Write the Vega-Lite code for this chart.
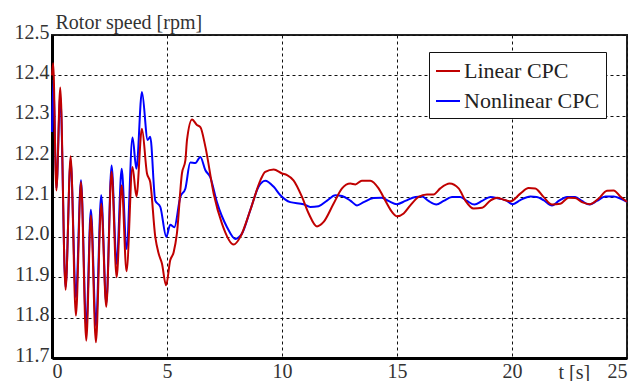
{
  "$schema": "https://vega.github.io/schema/vega-lite/v6.json",
  "width": 575,
  "height": 323,
  "autosize": {"type": "none"},
  "padding": {"left": 52, "top": 35, "right": 3, "bottom": 23},
  "background": "white",
  "config": {
    "font": "Liberation Serif",
    "view": {"stroke": "#222", "strokeWidth": 2},
    "axis": {
      "grid": true,
      "gridColor": "#111",
      "gridDash": [3, 3],
      "gridWidth": 1,
      "gridOpacity": 1,
      "domainColor": "#000",
      "domainWidth": 3,
      "ticks": false,
      "labelFont": "Liberation Serif",
      "labelFontSize": 20,
      "labelColor": "#333",
      "titleFont": "Liberation Serif",
      "titleFontWeight": "normal",
      "titleColor": "#333"
    },
    "legend": {
      "labelFont": "Liberation Serif",
      "labelFontSize": 22,
      "labelColor": "#222"
    }
  },
  "data": {
    "values": [
      {"t": 0.0, "v": 12.40, "s": "Linear CPC"},
      {"t": 0.05, "v": 12.43, "s": "Linear CPC"},
      {"t": 0.19, "v": 12.115, "s": "Linear CPC"},
      {"t": 0.36, "v": 12.37, "s": "Linear CPC"},
      {"t": 0.59, "v": 11.869, "s": "Linear CPC"},
      {"t": 0.81, "v": 12.20, "s": "Linear CPC"},
      {"t": 1.04, "v": 11.805, "s": "Linear CPC"},
      {"t": 1.26, "v": 12.136, "s": "Linear CPC"},
      {"t": 1.49, "v": 11.743, "s": "Linear CPC"},
      {"t": 1.69, "v": 12.053, "s": "Linear CPC"},
      {"t": 1.91, "v": 11.739, "s": "Linear CPC"},
      {"t": 2.14, "v": 12.082, "s": "Linear CPC"},
      {"t": 2.36, "v": 11.827, "s": "Linear CPC"},
      {"t": 2.59, "v": 12.161, "s": "Linear CPC"},
      {"t": 2.81, "v": 11.90, "s": "Linear CPC"},
      {"t": 3.03, "v": 12.128, "s": "Linear CPC"},
      {"t": 3.24, "v": 11.915, "s": "Linear CPC"},
      {"t": 3.5, "v": 12.173, "s": "Linear CPC"},
      {"t": 3.67, "v": 12.10, "s": "Linear CPC"},
      {"t": 3.91, "v": 12.268, "s": "Linear CPC"},
      {"t": 4.13, "v": 12.157, "s": "Linear CPC"},
      {"t": 4.27, "v": 12.136, "s": "Linear CPC"},
      {"t": 4.49, "v": 12.00, "s": "Linear CPC"},
      {"t": 4.64, "v": 11.958, "s": "Linear CPC"},
      {"t": 4.78, "v": 11.934, "s": "Linear CPC"},
      {"t": 4.96, "v": 11.88, "s": "Linear CPC"},
      {"t": 5.14, "v": 11.942, "s": "Linear CPC"},
      {"t": 5.29, "v": 11.962, "s": "Linear CPC"},
      {"t": 5.43, "v": 12.008, "s": "Linear CPC"},
      {"t": 5.65, "v": 12.157, "s": "Linear CPC"},
      {"t": 5.8, "v": 12.19, "s": "Linear CPC"},
      {"t": 5.87, "v": 12.24, "s": "Linear CPC"},
      {"t": 6.09, "v": 12.291, "s": "Linear CPC"},
      {"t": 6.3, "v": 12.277, "s": "Linear CPC"},
      {"t": 6.45, "v": 12.272, "s": "Linear CPC"},
      {"t": 6.67, "v": 12.223, "s": "Linear CPC"},
      {"t": 7.03, "v": 12.107, "s": "Linear CPC"},
      {"t": 7.39, "v": 12.033, "s": "Linear CPC"},
      {"t": 7.9, "v": 11.981, "s": "Linear CPC"},
      {"t": 8.19, "v": 12.0, "s": "Linear CPC"},
      {"t": 8.62, "v": 12.066, "s": "Linear CPC"},
      {"t": 9.06, "v": 12.14, "s": "Linear CPC"},
      {"t": 9.27, "v": 12.161, "s": "Linear CPC"},
      {"t": 9.64, "v": 12.167, "s": "Linear CPC"},
      {"t": 10.0, "v": 12.157, "s": "Linear CPC"},
      {"t": 10.22, "v": 12.153, "s": "Linear CPC"},
      {"t": 10.5, "v": 12.14, "s": "Linear CPC"},
      {"t": 10.87, "v": 12.099, "s": "Linear CPC"},
      {"t": 11.16, "v": 12.058, "s": "Linear CPC"},
      {"t": 11.52, "v": 12.026, "s": "Linear CPC"},
      {"t": 11.81, "v": 12.037, "s": "Linear CPC"},
      {"t": 12.24, "v": 12.082, "s": "Linear CPC"},
      {"t": 12.61, "v": 12.12, "s": "Linear CPC"},
      {"t": 12.97, "v": 12.132, "s": "Linear CPC"},
      {"t": 13.19, "v": 12.13, "s": "Linear CPC"},
      {"t": 13.47, "v": 12.139, "s": "Linear CPC"},
      {"t": 13.84, "v": 12.139, "s": "Linear CPC"},
      {"t": 14.2, "v": 12.12, "s": "Linear CPC"},
      {"t": 14.49, "v": 12.09, "s": "Linear CPC"},
      {"t": 14.78, "v": 12.062, "s": "Linear CPC"},
      {"t": 15.0, "v": 12.051, "s": "Linear CPC"},
      {"t": 15.29, "v": 12.058, "s": "Linear CPC"},
      {"t": 15.58, "v": 12.078, "s": "Linear CPC"},
      {"t": 15.94, "v": 12.099, "s": "Linear CPC"},
      {"t": 16.3, "v": 12.105, "s": "Linear CPC"},
      {"t": 16.59, "v": 12.105, "s": "Linear CPC"},
      {"t": 16.88, "v": 12.12, "s": "Linear CPC"},
      {"t": 17.29, "v": 12.132, "s": "Linear CPC"},
      {"t": 17.68, "v": 12.12, "s": "Linear CPC"},
      {"t": 17.97, "v": 12.09, "s": "Linear CPC"},
      {"t": 18.33, "v": 12.07, "s": "Linear CPC"},
      {"t": 18.7, "v": 12.072, "s": "Linear CPC"},
      {"t": 19.06, "v": 12.09, "s": "Linear CPC"},
      {"t": 19.35, "v": 12.097, "s": "Linear CPC"},
      {"t": 19.64, "v": 12.092, "s": "Linear CPC"},
      {"t": 19.93, "v": 12.088, "s": "Linear CPC"},
      {"t": 20.36, "v": 12.107, "s": "Linear CPC"},
      {"t": 20.72, "v": 12.121, "s": "Linear CPC"},
      {"t": 21.01, "v": 12.12, "s": "Linear CPC"},
      {"t": 21.37, "v": 12.099, "s": "Linear CPC"},
      {"t": 21.74, "v": 12.08, "s": "Linear CPC"},
      {"t": 22.1, "v": 12.082, "s": "Linear CPC"},
      {"t": 22.46, "v": 12.097, "s": "Linear CPC"},
      {"t": 22.75, "v": 12.096, "s": "Linear CPC"},
      {"t": 23.04, "v": 12.086, "s": "Linear CPC"},
      {"t": 23.4, "v": 12.081, "s": "Linear CPC"},
      {"t": 23.77, "v": 12.095, "s": "Linear CPC"},
      {"t": 24.13, "v": 12.114, "s": "Linear CPC"},
      {"t": 24.42, "v": 12.115, "s": "Linear CPC"},
      {"t": 24.71, "v": 12.1, "s": "Linear CPC"},
      {"t": 25.0, "v": 12.087, "s": "Linear CPC"},
      {"t": 0.0, "v": 12.26, "s": "Nonlinear CPC"},
      {"t": 0.06, "v": 12.39, "s": "Nonlinear CPC"},
      {"t": 0.19, "v": 12.12, "s": "Nonlinear CPC"},
      {"t": 0.36, "v": 12.35, "s": "Nonlinear CPC"},
      {"t": 0.59, "v": 11.875, "s": "Nonlinear CPC"},
      {"t": 0.81, "v": 12.19, "s": "Nonlinear CPC"},
      {"t": 1.04, "v": 11.85, "s": "Nonlinear CPC"},
      {"t": 1.26, "v": 12.14, "s": "Nonlinear CPC"},
      {"t": 1.49, "v": 11.776, "s": "Nonlinear CPC"},
      {"t": 1.69, "v": 12.067, "s": "Nonlinear CPC"},
      {"t": 1.91, "v": 11.78, "s": "Nonlinear CPC"},
      {"t": 2.14, "v": 12.103, "s": "Nonlinear CPC"},
      {"t": 2.36, "v": 11.835, "s": "Nonlinear CPC"},
      {"t": 2.59, "v": 12.177, "s": "Nonlinear CPC"},
      {"t": 2.81, "v": 11.933, "s": "Nonlinear CPC"},
      {"t": 3.03, "v": 12.169, "s": "Nonlinear CPC"},
      {"t": 3.24, "v": 11.97, "s": "Nonlinear CPC"},
      {"t": 3.5, "v": 12.246, "s": "Nonlinear CPC"},
      {"t": 3.67, "v": 12.169, "s": "Nonlinear CPC"},
      {"t": 3.91, "v": 12.359, "s": "Nonlinear CPC"},
      {"t": 4.16, "v": 12.24, "s": "Nonlinear CPC"},
      {"t": 4.27, "v": 12.248, "s": "Nonlinear CPC"},
      {"t": 4.49, "v": 12.09, "s": "Nonlinear CPC"},
      {"t": 4.71, "v": 12.074, "s": "Nonlinear CPC"},
      {"t": 4.97, "v": 12.0, "s": "Nonlinear CPC"},
      {"t": 5.14, "v": 12.03, "s": "Nonlinear CPC"},
      {"t": 5.32, "v": 12.024, "s": "Nonlinear CPC"},
      {"t": 5.58, "v": 12.099, "s": "Nonlinear CPC"},
      {"t": 5.8, "v": 12.12, "s": "Nonlinear CPC"},
      {"t": 6.01, "v": 12.184, "s": "Nonlinear CPC"},
      {"t": 6.23, "v": 12.183, "s": "Nonlinear CPC"},
      {"t": 6.45, "v": 12.198, "s": "Nonlinear CPC"},
      {"t": 6.67, "v": 12.165, "s": "Nonlinear CPC"},
      {"t": 6.88, "v": 12.148, "s": "Nonlinear CPC"},
      {"t": 7.17, "v": 12.086, "s": "Nonlinear CPC"},
      {"t": 7.61, "v": 12.024, "s": "Nonlinear CPC"},
      {"t": 7.97, "v": 11.995, "s": "Nonlinear CPC"},
      {"t": 8.26, "v": 12.008, "s": "Nonlinear CPC"},
      {"t": 8.62, "v": 12.066, "s": "Nonlinear CPC"},
      {"t": 8.98, "v": 12.124, "s": "Nonlinear CPC"},
      {"t": 9.27, "v": 12.139, "s": "Nonlinear CPC"},
      {"t": 9.64, "v": 12.124, "s": "Nonlinear CPC"},
      {"t": 9.93, "v": 12.103, "s": "Nonlinear CPC"},
      {"t": 10.36, "v": 12.086, "s": "Nonlinear CPC"},
      {"t": 10.94, "v": 12.081, "s": "Nonlinear CPC"},
      {"t": 11.23, "v": 12.074, "s": "Nonlinear CPC"},
      {"t": 11.59, "v": 12.076, "s": "Nonlinear CPC"},
      {"t": 11.96, "v": 12.09, "s": "Nonlinear CPC"},
      {"t": 12.32, "v": 12.103, "s": "Nonlinear CPC"},
      {"t": 12.61, "v": 12.101, "s": "Nonlinear CPC"},
      {"t": 12.97, "v": 12.09, "s": "Nonlinear CPC"},
      {"t": 13.26, "v": 12.078, "s": "Nonlinear CPC"},
      {"t": 13.55, "v": 12.086, "s": "Nonlinear CPC"},
      {"t": 13.98, "v": 12.096, "s": "Nonlinear CPC"},
      {"t": 14.34, "v": 12.097, "s": "Nonlinear CPC"},
      {"t": 14.63, "v": 12.089, "s": "Nonlinear CPC"},
      {"t": 15.0, "v": 12.081, "s": "Nonlinear CPC"},
      {"t": 15.36, "v": 12.089, "s": "Nonlinear CPC"},
      {"t": 15.8, "v": 12.099, "s": "Nonlinear CPC"},
      {"t": 16.09, "v": 12.1, "s": "Nonlinear CPC"},
      {"t": 16.37, "v": 12.089, "s": "Nonlinear CPC"},
      {"t": 16.71, "v": 12.08, "s": "Nonlinear CPC"},
      {"t": 17.03, "v": 12.089, "s": "Nonlinear CPC"},
      {"t": 17.39, "v": 12.099, "s": "Nonlinear CPC"},
      {"t": 17.75, "v": 12.099, "s": "Nonlinear CPC"},
      {"t": 18.04, "v": 12.089, "s": "Nonlinear CPC"},
      {"t": 18.37, "v": 12.08, "s": "Nonlinear CPC"},
      {"t": 18.7, "v": 12.089, "s": "Nonlinear CPC"},
      {"t": 19.06, "v": 12.099, "s": "Nonlinear CPC"},
      {"t": 19.42, "v": 12.095, "s": "Nonlinear CPC"},
      {"t": 19.71, "v": 12.091, "s": "Nonlinear CPC"},
      {"t": 20.04, "v": 12.081, "s": "Nonlinear CPC"},
      {"t": 20.36, "v": 12.091, "s": "Nonlinear CPC"},
      {"t": 20.8, "v": 12.1, "s": "Nonlinear CPC"},
      {"t": 21.08, "v": 12.099, "s": "Nonlinear CPC"},
      {"t": 21.37, "v": 12.091, "s": "Nonlinear CPC"},
      {"t": 21.74, "v": 12.078, "s": "Nonlinear CPC"},
      {"t": 22.03, "v": 12.089, "s": "Nonlinear CPC"},
      {"t": 22.39, "v": 12.099, "s": "Nonlinear CPC"},
      {"t": 22.75, "v": 12.099, "s": "Nonlinear CPC"},
      {"t": 23.04, "v": 12.089, "s": "Nonlinear CPC"},
      {"t": 23.37, "v": 12.08, "s": "Nonlinear CPC"},
      {"t": 23.69, "v": 12.089, "s": "Nonlinear CPC"},
      {"t": 24.06, "v": 12.1, "s": "Nonlinear CPC"},
      {"t": 24.42, "v": 12.1, "s": "Nonlinear CPC"},
      {"t": 24.71, "v": 12.095, "s": "Nonlinear CPC"},
      {"t": 25.0, "v": 12.087, "s": "Nonlinear CPC"}
    ]
  },
  "encoding": {
    "x": {
      "field": "t",
      "type": "quantitative",
      "scale": {"domain": [0, 25], "nice": false, "zero": false},
      "axis": {
        "values": [0, 5, 10, 15, 20, 25],
        "labelFont": "Liberation Serif",
        "labelFontSize": 20,
        "labelFlush": true,
        "labelPadding": 3,
        "title": "t [s]",
        "titleFont": "Liberation Serif",
        "titleFontSize": 20,
        "titleAlign": "left",
        "titleBaseline": "alphabetic",
        "titleX": 506,
        "titleY": 20
      }
    },
    "y": {
      "field": "v",
      "type": "quantitative",
      "scale": {"domain": [11.7, 12.5], "nice": false, "zero": false},
      "axis": {
        "values": [11.7, 11.8, 11.9, 12.0, 12.1, 12.2, 12.3, 12.4, 12.5],
        "format": ".1f",
        "labelFont": "Liberation Serif",
        "labelFontSize": 20,
        "labelPadding": 3,
        "labelOffset": -3,
        "title": "Rotor speed [rpm]",
        "titleFont": "Liberation Serif",
        "titleFontSize": 20,
        "titleAngle": 0,
        "titleAlign": "left",
        "titleBaseline": "alphabetic",
        "titleX": 3,
        "titleY": -7
      }
    },
    "color": {
      "field": "s",
      "type": "nominal",
      "scale": {"domain": ["Linear CPC", "Nonlinear CPC"], "range": ["#c00000", "#0000ff"]},
      "legend": {
        "title": null,
        "orient": "none",
        "legendX": 377,
        "legendY": 17,
        "fillColor": "white",
        "strokeColor": "#111",
        "cornerRadius": 0,
        "padding": 6,
        "symbolType": "stroke",
        "symbolSize": 576,
        "symbolStrokeWidth": 2,
        "labelFont": "Liberation Serif",
        "labelFontSize": 22,
        "labelOffset": 3,
        "rowPadding": 6,
        "labelLimit": 300
      }
    }
  },
  "layer": [
    {
      "transform": [{"filter": "datum.s === 'Nonlinear CPC'"}],
      "mark": {"type": "line", "strokeWidth": 2, "interpolate": "monotone"}
    },
    {
      "transform": [{"filter": "datum.s === 'Linear CPC'"}],
      "mark": {"type": "line", "strokeWidth": 2, "interpolate": "monotone"}
    }
  ]
}
